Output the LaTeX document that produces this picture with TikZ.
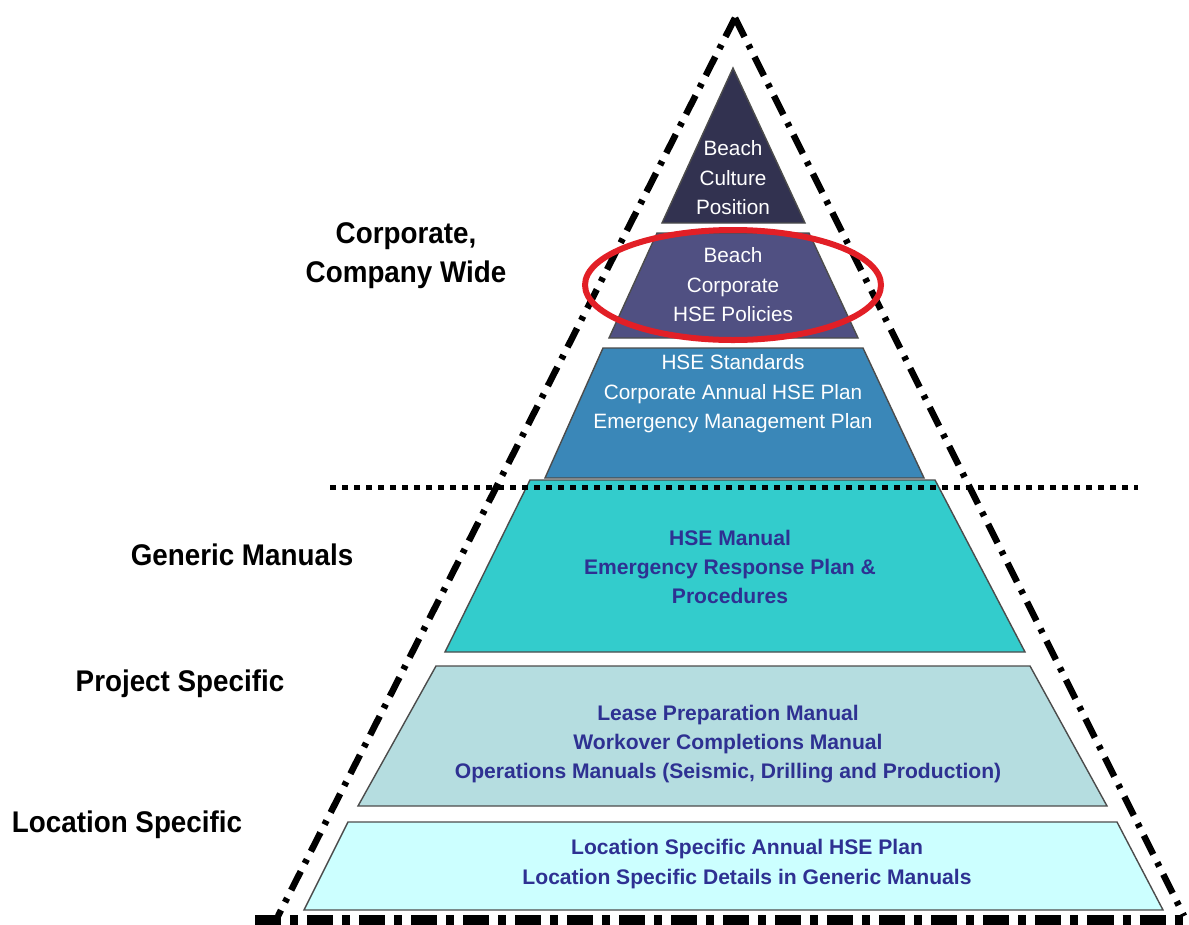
\documentclass[tikz,border=0pt]{standalone}
\usepackage{fontspec}
\setmainfont{Liberation Sans}
\newfontfamily\sidefont[FakeStretch=0.93]{Liberation Sans}
\definecolor{TopNavy}{RGB}{50,50,80}
\definecolor{PolicyBlue}{RGB}{80,80,130}
\definecolor{StandardBlue}{RGB}{58,135,184}
\definecolor{ManualTeal}{RGB}{51,204,204}
\definecolor{ProjectTeal}{RGB}{181,221,224}
\definecolor{LocationCyan}{RGB}{204,255,255}
\definecolor{TextBlue}{RGB}{46,49,146}
\definecolor{RingRed}{RGB}{226,31,38}

\begin{document}
\begin{tikzpicture}
        [x=0.01cm,y=-0.01cm,every node/.style={inner sep=0pt,align=center}]
        \useasboundingbox (0,0) rectangle (1189,924);
        \tikzset{LayerStyle/.style = {draw=black!70, line width=0.4pt},
                 TopText/.style    = {text=white, font=\fontsize{5.9}{8.4}\selectfont},
                 LowText/.style    = {text=TextBlue, font=\fontsize{6}{8.3}\selectfont\bfseries},
                 SideText/.style   = {font=\sidefont\fontsize{8.5}{11.1}\selectfont\bfseries},
                 BorderStyle/.style = {line width=0.065cm,
                                  dash pattern=on 0.21cm off 0.09cm on 0.045cm off 0.09cm}}
        % pyramid layers
        \filldraw[LayerStyle, fill=TopNavy] (733,68) -- (805,223) -- (662,223) -- cycle;
        \foreach \col/\ya/\xa/\xb/\yb/\xc/\xd in {PolicyBlue/233/657/809/338/609/858,
                StandardBlue/348/603/863/478/545/924,
                ManualTeal/480/530/935/652/445/1025,
                ProjectTeal/666/436/1030/806/358/1107,
                LocationCyan/822/348/1117/910/304/1163}
            \filldraw[LayerStyle, fill=\col] (\xa,\ya) -- (\xb,\ya) -- (\xd,\yb) -- (\xc,\yb) -- cycle;
        % texts in the layers
        \node[TopText] (Culture) at (733,178) {Beach\\Culture\\Position};
        \node[TopText] (Policies) at (733,285) {Beach\\Corporate\\HSE Policies};
        \node[TopText] (Standards) at (733,394) {HSE Standards\\Corporate Annual HSE Plan\\Emergency Management Plan};
        \node[LowText] (Manual) at (730,567) {HSE Manual\\Emergency Response Plan \&\\Procedures};
        \node[LowText] (Operations) at (728,744) {Lease Preparation Manual\\Workover Completions Manual\\Operations Manuals (Seismic, Drilling and Production)};
        \node[LowText, font=\fontsize{6}{8.8}\selectfont\bfseries] (Details) at (747,864) {Location Specific Annual HSE Plan\\Location Specific Details in Generic Manuals};
        % side labels
        \node[SideText] (Corporate) at (406,256) {Corporate,\\Company Wide};
        \node[SideText] (Generic) at (242,555) {Generic Manuals};
        \node[SideText] (Project) at (180,684) {Project Specific};
        \node[SideText] (Location) at (127,825) {Location Specific};
        % outer frame
        \coordinate (Apex) at (735,18);
        \coordinate (LeftFoot) at (278,916);
        \coordinate (RightFoot) at (1184,916);
        \coordinate (BaseStart) at (255,920);
        \coordinate (BaseEnd) at (1189,920);
        \coordinate (SplitStart) at (330,487);
        \coordinate (SplitEnd) at (1138,487);
        \foreach \to in {LeftFoot,RightFoot}
            \draw[BorderStyle] (Apex) -- (\to);
        \draw[line width=0.1cm, dash pattern=on 0.26cm off 0.09cm on 0.08cm off 0.09cm] (BaseStart) -- (BaseEnd);
        \draw[line width=0.05cm, dash pattern=on 0.06cm off 0.06cm] (SplitStart) -- (SplitEnd);
        \draw[RingRed, line width=0.06cm] (Policies) ellipse [x radius=148, y radius=55];
    \end{tikzpicture}
\end{document}
